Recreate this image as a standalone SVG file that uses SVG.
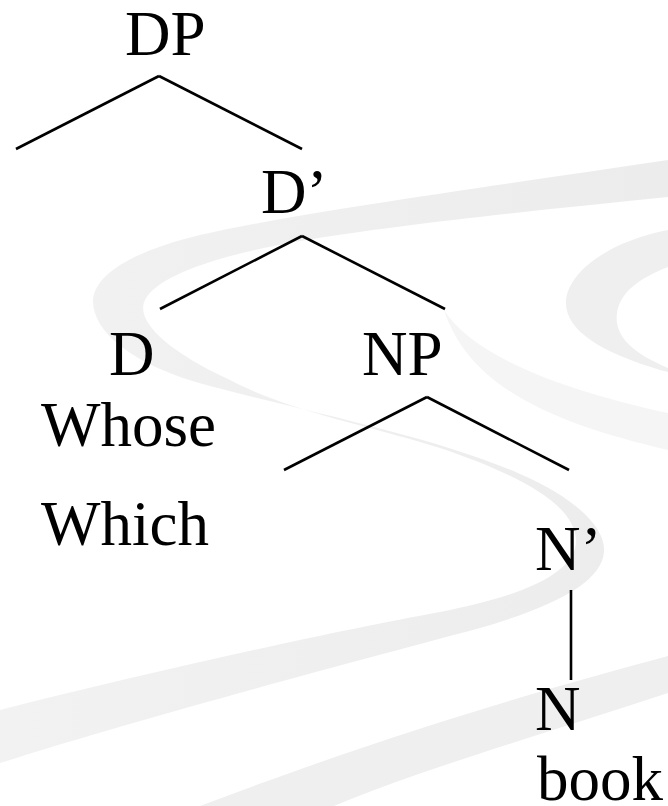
<svg xmlns="http://www.w3.org/2000/svg" width="668" height="806" viewBox="0 0 668 806">
<style>
.bg{fill:#efefef;stroke:none}
.bg2{fill:#f5f5f5;stroke:none}
.lbl{font-family:"Liberation Serif","Times New Roman",serif;font-size:63px;fill:#000}
.edge{stroke:#000;stroke-width:2.6;fill:none;stroke-linecap:butt}
</style>
<defs>
<linearGradient id="loopGrad" x1="0" y1="0" x2="1" y2="0">
<stop offset="0" stop-color="#f2f2f2"/>
<stop offset="0.5" stop-color="#efefef"/>
<stop offset="1" stop-color="#ececec"/>
</linearGradient>
</defs>
<rect width="668" height="806" fill="#fff"/>
<g id="background">
<path fill="url(#loopGrad)" d="M668,160 C500,185 300,212 200,235 C130,252 95,275 93,300 C92,330 130,365 210,386 C300,410 440,438 520,474 C580,500 606,530 604,552 C602,580 560,605 480,628 C380,655 150,715 0,763 L0,710 C150,672 330,632 440,612 C530,595 577,570 576,540 C575,505 520,475 440,448 C380,428 290,412 230,380 C165,350 135,320 145,300 C158,275 220,255 300,241 C400,224 540,210 668,197 Z"/>
<path class="bg" d="M668,230 C615,240 570,268 566,300 C564,330 600,352 660,370 L668,372 L668,368 C630,352 614,335 617,313 C620,292 640,278 668,267 Z"/>
<path class="bg2" d="M444,310 C470,350 540,385 668,413 L668,450 C560,425 470,390 444,310 Z"/>
<path class="bg" d="M668,656 C560,685 400,730 200,806 L334,806 C420,770 540,735 668,693 Z"/>
</g>
<g id="connectors">
<line class="edge" x1="159" y1="76" x2="16" y2="149"/>
<line class="edge" x1="159" y1="76" x2="302" y2="149"/>
<line class="edge" x1="302" y1="236" x2="160" y2="309"/>
<line class="edge" x1="302" y1="236" x2="445" y2="309"/>
<line class="edge" x1="427" y1="397" x2="284" y2="470"/>
<line class="edge" x1="427" y1="397" x2="569" y2="470"/>
<line class="edge" x1="571" y1="590" x2="571" y2="680"/>
</g>
<g id="node-DP"><text class="lbl" x="125" y="55">DP</text></g>
<g id="node-Dbar"><text class="lbl" x="261" y="213">D’</text></g>
<g id="node-D"><text class="lbl" x="109" y="375">D</text></g>
<g id="node-NP"><text class="lbl" x="362" y="375">NP</text></g>
<g id="node-whose"><text class="lbl" x="41" y="446">Whose</text></g>
<g id="node-which"><text class="lbl" x="41" y="545">Which</text></g>
<g id="node-Nbar"><text class="lbl" x="535" y="570">N’</text></g>
<g id="node-N"><text class="lbl" x="535" y="730">N</text></g>
<g id="node-book"><text class="lbl" x="537" y="800">book</text></g>
</svg>
